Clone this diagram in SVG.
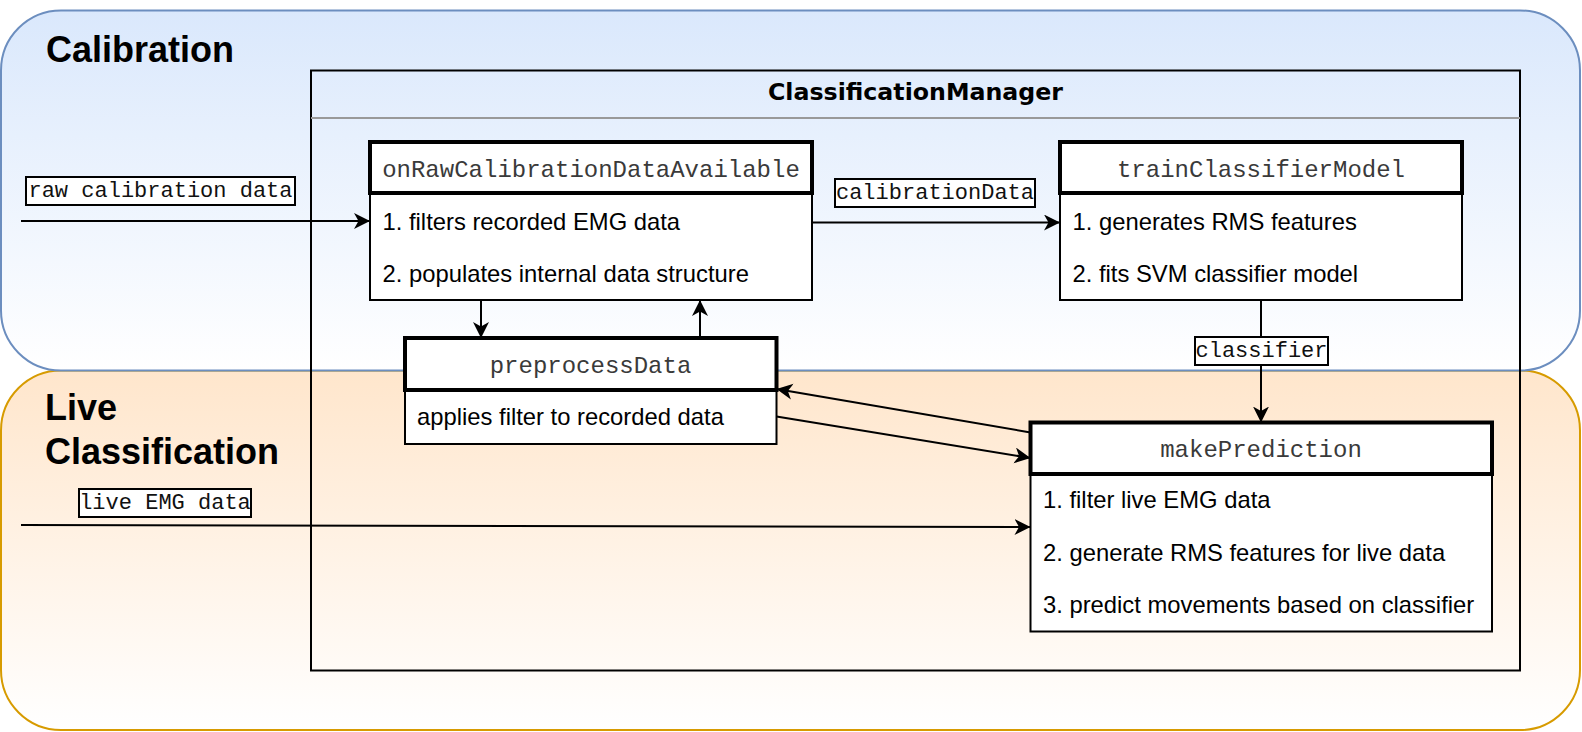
<svg xmlns="http://www.w3.org/2000/svg" width="1582" height="732" viewBox="0 0 1582 732">
<defs>
<linearGradient id="gBlue" x1="0" y1="0" x2="0" y2="1"><stop offset="0" stop-color="#dae8fc"/><stop offset="1" stop-color="#ffffff"/></linearGradient>
<linearGradient id="gOrange" x1="0" y1="0" x2="0" y2="1"><stop offset="0" stop-color="#ffe6cc"/><stop offset="1" stop-color="#ffffff"/></linearGradient>
<marker id="arr" markerWidth="18" markerHeight="17" refX="16" refY="8" orient="auto" markerUnits="userSpaceOnUse"><path d="M0,0 L16,8 L0,16 L4.5,8 Z" fill="#000"/></marker>
<style>
.lane-title{font-family:"Liberation Sans",Arial,sans-serif;font-weight:bold;font-size:36px;fill:#000}
.cm-title{font-family:"DejaVu Sans",Verdana,sans-serif;font-weight:bold;font-size:23.7px;fill:#000}
.hdr{font-family:"Liberation Mono","Courier New",monospace;font-size:24px;fill:#3a3a3a;text-anchor:middle}
.body{font-family:"Liberation Sans",Arial,sans-serif;font-size:23.8px;fill:#000}
.lbl{font-family:"Liberation Mono","Courier New",monospace;font-size:22px;fill:#111;text-anchor:middle}
.box{fill:#fff;stroke:#000;stroke-width:2}
.hbox{fill:#fff;stroke:#000;stroke-width:4}
.lblbox{fill:#fff;stroke:#000;stroke-width:2}
.edge{fill:none;stroke:#000;stroke-width:2;marker-end:url(#arr)}
</style>
</defs>

<g id="lane-live">
<rect x="1" y="370.5" width="1579" height="359.5" rx="60" ry="60" fill="url(#gOrange)" stroke="#d79b00" stroke-width="2"/>
<text class="lane-title" x="45" y="420">Live</text>
<text class="lane-title" x="45" y="464">Classification</text>
</g>
<g id="lane-calibration">
<rect x="1" y="10.5" width="1579" height="360" rx="60" ry="60" fill="url(#gBlue)" stroke="#6c8ebf" stroke-width="2"/>
<text class="lane-title" x="46" y="61.5">Calibration</text>
</g>

<g id="classification-manager">
<rect x="311" y="70.5" width="1209" height="600" fill="none" stroke="#000" stroke-width="2"/>
<line x1="311" y1="118" x2="1520" y2="118" stroke="#999" stroke-width="2"/>
<text class="cm-title" x="915.5" y="99.5" text-anchor="middle">ClassificationManager</text>
</g>

<g id="connectors">
<path class="edge" d="M21,221 L370,221"/>
<path class="edge" d="M812,222.5 L1060,222.5"/>
<path class="edge" d="M481,300 L481,338"/>
<path class="edge" d="M700,338 L700,300"/>
<path class="edge" d="M1261,300 L1261,422.5"/>
<path class="edge" d="M1030.5,432.5 L776.5,389"/>
<path class="edge" d="M776.5,416.5 L1030.5,458"/>
<path class="edge" d="M21,525 L1030.5,527"/>
<g id="label-raw"><rect class="lblbox" x="26" y="177" width="269" height="28"/><text class="lbl" x="160.5" y="196.5">raw calibration data</text></g>
<g id="label-calibrationData"><rect class="lblbox" x="835" y="179" width="200" height="28"/><text class="lbl" x="935" y="198.5">calibrationData</text></g>
<g id="label-classifier"><rect class="lblbox" x="1195" y="337" width="133" height="28"/><text class="lbl" x="1261.5" y="356.5">classifier</text></g>
<g id="label-live"><rect class="lblbox" x="79" y="489" width="172" height="28"/><text class="lbl" x="165" y="508.5">live EMG data</text></g>
</g>

<g id="node-onRaw">
<rect class="box" x="370" y="142" width="442" height="158"/>
<rect class="hbox" x="370" y="142" width="442" height="51"/>
<text class="hdr" x="591" y="176.5">onRawCalibrationDataAvailable</text>
<text class="body" x="382.5" y="230">1. filters recorded EMG data</text>
<text class="body" x="382.5" y="281.5">2. populates internal data structure</text>
</g>

<g id="node-train">
<rect class="box" x="1060" y="142" width="402" height="158"/>
<rect class="hbox" x="1060" y="142" width="402" height="51"/>
<text class="hdr" x="1261" y="176.5">trainClassifierModel</text>
<text class="body" x="1072.5" y="230">1. generates RMS features</text>
<text class="body" x="1072.5" y="282">2. fits SVM classifier model</text>
</g>

<g id="node-preprocess">
<rect class="box" x="405" y="338" width="371.5" height="106"/>
<rect class="hbox" x="405" y="338" width="371.5" height="52"/>
<text class="hdr" x="590.5" y="372.5">preprocessData</text>
<text class="body" x="417" y="425">applies filter to recorded data</text>
</g>

<g id="node-makePrediction">
<rect class="box" x="1030.5" y="422.5" width="461.5" height="209"/>
<rect class="hbox" x="1030.5" y="422.5" width="461.5" height="51.5"/>
<text class="hdr" x="1261" y="457">makePrediction</text>
<text class="body" x="1043" y="508">1. filter live EMG data</text>
<text class="body" x="1043" y="560.5">2. generate RMS features for live data</text>
<text class="body" x="1043" y="612.5">3. predict movements based on classifier</text>
</g>
</svg>
